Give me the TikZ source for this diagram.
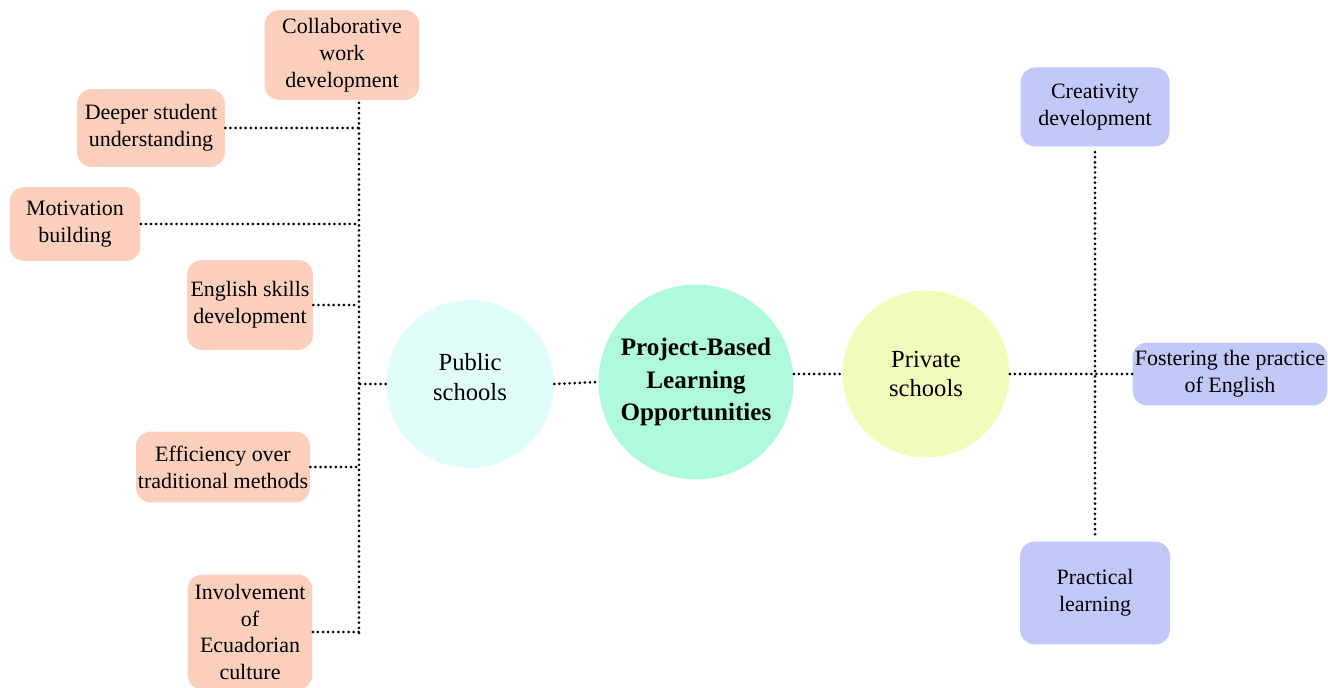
\documentclass[tikz,border=0pt]{standalone}
\usepackage{fontspec}
\setmainfont{Liberation Serif}
\usetikzlibrary{positioning}
\definecolor{peach}{RGB}{252,208,188}
\definecolor{lavender}{RGB}{195,200,250}
\definecolor{pubcol}{RGB}{224,253,250}
\definecolor{pblcol}{RGB}{176,250,220}
\definecolor{privcol}{RGB}{243,251,187}
\tikzset{
  box/.style={rounded corners=8.5pt,inner sep=0pt,align=center,font=\rmfamily\fontsize{12.5}{15.3}\selectfont},
  peachbox/.style={box,fill=peach},
  bluebox/.style={box,fill=lavender},
  school/.style={circle,inner sep=0pt,align=center,font=\rmfamily\fontsize{14}{17}\selectfont},
  dotline/.style={line width=1.7pt,line cap=round,dash pattern=on 0pt off 2.9pt},
}

\begin{document}
\begin{tikzpicture}[x=0.02cm,y=-0.02cm]
\useasboundingbox (0,0) rectangle (1328,688);
% centre and the two kinds of schools
\node (pbl) [school,fill=pblcol,minimum size=3.9cm,font=\rmfamily\fontsize{14.3}{18.7}\selectfont\bfseries] at (696,382) {Project-Based\\Learning\\Opportunities};
\node (pub) [school,fill=pubcol,minimum size=3.36cm] at (470,384) {Public\\schools\\[-9pt]\mbox{}};
\node (priv) [school,fill=privcol,minimum size=3.34cm] at (926,374) {Private\\schools};
%
% public schools side
\node (collab) [peachbox,minimum width=3.1cm,minimum height=1.8cm] at (342,55) {Collaborative\\work\\development};
\node (deeper) [peachbox,minimum width=2.96cm,minimum height=1.56cm] at (151,128) {Deeper student\\understanding};
\node (motiv) [peachbox,minimum width=2.62cm,minimum height=1.48cm] at (75,224) {Motivation\\building};
\node (engl) [peachbox,minimum width=2.52cm,minimum height=1.8cm] at (250,305) {English skills\\development};
\node (effic) [peachbox,minimum width=3.48cm,minimum height=1.42cm] at (223,467) {Efficiency over\\traditional methods};
\node (invol) [peachbox,minimum width=2.5cm,minimum height=2.3cm] at (250,632) {Involvement\\of\\Ecuadorian\\culture};
%
% private schools side
\node (creat) [bluebox,minimum width=2.98cm,minimum height=1.58cm] at (1095,107) {Creativity\\development};
\node (foster) [bluebox,minimum width=3.9cm,minimum height=1.26cm] at (1230,374) {Fostering the practice\\of English};
\node (pract) [bluebox,minimum width=3.0cm,minimum height=2.06cm] at (1095,593) {Practical\\learning};
%
\coordinate (ltop) at (359,103);
\coordinate (lbot) at (359,633);
\draw[dotline] (ltop) -- (lbot);
\draw[dotline] (deeper.east) -- (deeper.east -| ltop);
\draw[dotline] (motiv.east) -- (motiv.east -| ltop);
\draw[dotline] (engl.east) -- (engl.east -| ltop);
\draw[dotline] (effic.east) -- (effic.east -| ltop);
\draw[dotline] (invol.east) -- (invol.east -| ltop);
\draw[dotline] (pub.west) -- (pub.west -| ltop);
\draw[dotline] (pub.east) -- (pbl.west);
\draw[dotline] (pbl.east |- priv.west) -- (priv.west);
\draw[dotline] (priv.east) -- (foster.west);
\draw[dotline,shorten <=3pt,shorten >=2pt] (creat.south) -- (pract.north);
\end{tikzpicture}
\end{document}
